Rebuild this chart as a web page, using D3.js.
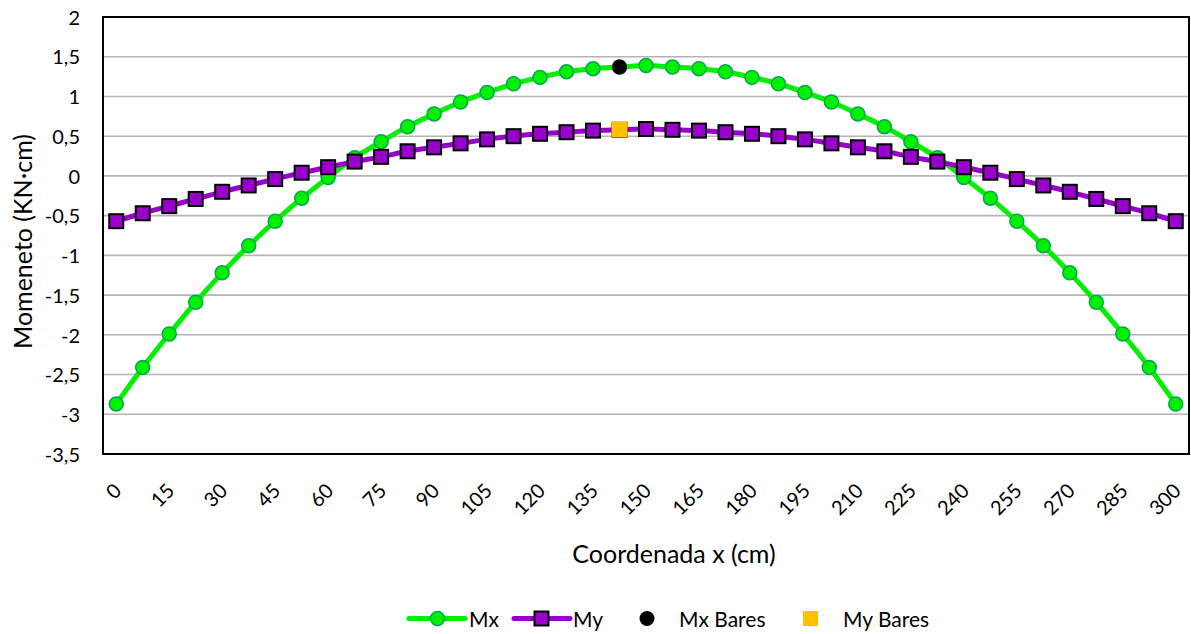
<!DOCTYPE html>
<html>
<head>
<meta charset="utf-8">
<script src="https://cdn.jsdelivr.net/npm/d3@7"></script>
<style>
  html, body { margin: 0; padding: 0; background: #ffffff; }
  svg { display: block; font-family: Lato, "Open Sans", sans-serif; }
</style>
</head>
<body>
<svg id="chart" width="1191" height="634"></svg>
<script>
// Positions along the slab strip (cm), every 7.5 cm
const categories = [0, 7.5, 15, 22.5, 30, 37.5, 45, 52.5, 60, 67.5, 75, 82.5, 90, 97.5, 105, 112.5,
  120, 127.5, 135, 142.5, 150, 157.5, 165, 172.5, 180, 187.5, 195, 202.5, 210, 217.5, 225, 232.5,
  240, 247.5, 255, 262.5, 270, 277.5, 285, 292.5, 300];

// Bending moment Mx (kN·cm) at each position
const mxValues = [-2.87, -2.41, -1.99, -1.59, -1.22, -0.88, -0.57, -0.28, -0.02, 0.23, 0.43,
  0.62, 0.78, 0.93, 1.05, 1.16, 1.24, 1.31, 1.35, 1.37, 1.39, 1.37, 1.35, 1.31, 1.24, 1.16,
  1.05, 0.93, 0.78, 0.62, 0.43, 0.23, -0.02, -0.28, -0.57, -0.88, -1.22, -1.59, -1.99, -2.41, -2.87];

// Bending moment My (kN·cm) at each position
const myValues = [-0.57, -0.47, -0.38, -0.29, -0.20, -0.12, -0.04, 0.04, 0.11, 0.18, 0.24,
  0.31, 0.36, 0.41, 0.46, 0.50, 0.53, 0.55, 0.57, 0.58, 0.59, 0.58, 0.57, 0.55, 0.53, 0.50,
  0.46, 0.41, 0.36, 0.31, 0.24, 0.18, 0.11, 0.04, -0.04, -0.12, -0.20, -0.29, -0.38, -0.47, -0.57];

// Single values from the bar method
const mxBares = [{ x: 142.5, value: 1.37 }];
const myBares = [{ x: 142.5, value: 0.585 }];

// Axis labels
const xTickLabels = [0, 15, 30, 45, 60, 75, 90, 105, 120, 135, 150, 165, 180, 195, 210, 225, 240, 255, 270, 285, 300];
const yTickValues = [2, 1.5, 1, 0.5, 0, -0.5, -1, -1.5, -2, -2.5, -3, -3.5];

const plot = { left: 103, right: 1189, top: 17, bottom: 454 };
const svg = d3.select("#chart");

const x = d3.scalePoint()
  .domain(categories)
  .range([plot.left, plot.right])
  .padding(0.5);

const y = d3.scaleLinear()
  .domain([-3.5, 2])
  .range([plot.bottom, plot.top]);

const fmt = v => String(v).replace(".", ",");

// Horizontal gridlines
svg.append("g")
  .selectAll("line")
  .data(yTickValues)
  .join("line")
  .attr("x1", plot.left).attr("x2", plot.right)
  .attr("y1", d => y(d)).attr("y2", d => y(d))
  .attr("stroke", "#b4b4b4")
  .attr("stroke-width", 1.6);

// Y axis labels
const yAxis = d3.axisLeft(y).tickValues(yTickValues).tickSize(0).tickPadding(0).tickFormat(fmt);
const gy = svg.append("g").attr("transform", `translate(${plot.left - 23},0)`).call(yAxis);
gy.select(".domain").remove();
gy.selectAll("text")
  .attr("font-family", "Lato, sans-serif")
  .attr("font-size", 20)
  .attr("fill", "#000")
  .attr("dy", "0.36em");

// X axis labels (every other category), rotated
const xAxis = d3.axisBottom(x).tickValues(xTickLabels).tickSize(0).tickPadding(0).tickFormat(fmt);
const gx = svg.append("g").attr("transform", `translate(0,${plot.bottom})`).call(xAxis);
gx.select(".domain").remove();
gx.selectAll(".tick text")
  .attr("font-family", "Lato, sans-serif")
  .attr("font-size", 20)
  .attr("fill", "#000")
  .attr("text-anchor", "end")
  .attr("y", 0)
  .attr("dy", 0)
  .attr("transform", "translate(6,38) rotate(-45)");

// Plot frame
svg.append("rect")
  .attr("x", plot.left).attr("y", plot.top)
  .attr("width", plot.right - plot.left).attr("height", plot.bottom - plot.top)
  .attr("fill", "none")
  .attr("stroke", "#000")
  .attr("stroke-width", 2);

const curve = d3.curveCatmullRom.alpha(0.5);

// Mx series
const mxData = categories.map((c, i) => ({ x: c, value: mxValues[i] }));
svg.append("path")
  .datum(mxData)
  .attr("fill", "none")
  .attr("stroke", "#00f000")
  .attr("stroke-width", 5)
  .attr("stroke-linejoin", "round")
  .attr("d", d3.line().x(d => x(d.x)).y(d => y(d.value)).curve(curve));
svg.append("g")
  .selectAll("circle")
  .data(mxData)
  .join("circle")
  .attr("cx", d => x(d.x)).attr("cy", d => y(d.value))
  .attr("r", 7)
  .attr("fill", "#00f000")
  .attr("stroke", "#00a650")
  .attr("stroke-width", 1.5);

// My series
const myData = categories.map((c, i) => ({ x: c, value: myValues[i] }));
svg.append("path")
  .datum(myData)
  .attr("fill", "none")
  .attr("stroke", "#9900cc")
  .attr("stroke-width", 5)
  .attr("stroke-linejoin", "round")
  .attr("d", d3.line().x(d => x(d.x)).y(d => y(d.value)).curve(curve));
svg.append("g")
  .selectAll("rect")
  .data(myData)
  .join("rect")
  .attr("x", d => x(d.x) - 7).attr("y", d => y(d.value) - 7)
  .attr("width", 14).attr("height", 14)
  .attr("fill", "#9900cc")
  .attr("stroke", "#000")
  .attr("stroke-width", 2);

// Bar-method points
svg.append("g")
  .selectAll("circle")
  .data(mxBares)
  .join("circle")
  .attr("cx", d => x(d.x)).attr("cy", d => y(d.value))
  .attr("r", 7.5)
  .attr("fill", "#000");
svg.append("g")
  .selectAll("rect")
  .data(myBares)
  .join("rect")
  .attr("x", d => x(d.x) - 8).attr("y", d => y(d.value) - 8)
  .attr("width", 16).attr("height", 16)
  .attr("fill", "#ffc000");

// Axis titles
svg.append("text")
  .attr("x", 674).attr("y", 563)
  .attr("text-anchor", "middle")
  .attr("font-size", 25)
  .attr("fill", "#000")
  .text("Coordenada x (cm)");
svg.append("text")
  .attr("transform", "translate(32,241.5) rotate(-90)")
  .attr("text-anchor", "middle")
  .attr("font-size", 25)
  .attr("fill", "#000")
  .text("Momeneto (KN·cm)");

// Legend
const legendY = 618.5;
const legend = svg.append("g").attr("font-size", 21).attr("fill", "#000");
// Mx
legend.append("line").attr("x1", 409).attr("x2", 465).attr("y1", legendY).attr("y2", legendY)
  .attr("stroke", "#00f000").attr("stroke-width", 5).attr("stroke-linecap", "round");
legend.append("circle").attr("cx", 437.5).attr("cy", legendY).attr("r", 7)
  .attr("fill", "#00f000").attr("stroke", "#00a650").attr("stroke-width", 1.5);
legend.append("text").attr("x", 469).attr("y", 626.5).text("Mx");
// My
legend.append("line").attr("x1", 514).attr("x2", 570).attr("y1", legendY).attr("y2", legendY)
  .attr("stroke", "#9900cc").attr("stroke-width", 5).attr("stroke-linecap", "round");
legend.append("rect").attr("x", 541.5 - 7).attr("y", legendY - 7).attr("width", 14).attr("height", 14)
  .attr("fill", "#9900cc").attr("stroke", "#000").attr("stroke-width", 2);
legend.append("text").attr("x", 573).attr("y", 626.5).text("My");
// Mx Bares
legend.append("circle").attr("cx", 647).attr("cy", legendY).attr("r", 7.5).attr("fill", "#000");
legend.append("text").attr("x", 679).attr("y", 626.5).text("Mx Bares");
// My Bares
legend.append("rect").attr("x", 810.5 - 7.5).attr("y", legendY - 7.5).attr("width", 15).attr("height", 15)
  .attr("fill", "#ffc000");
legend.append("text").attr("x", 843).attr("y", 626.5).text("My Bares");
</script>
</body>
</html>
